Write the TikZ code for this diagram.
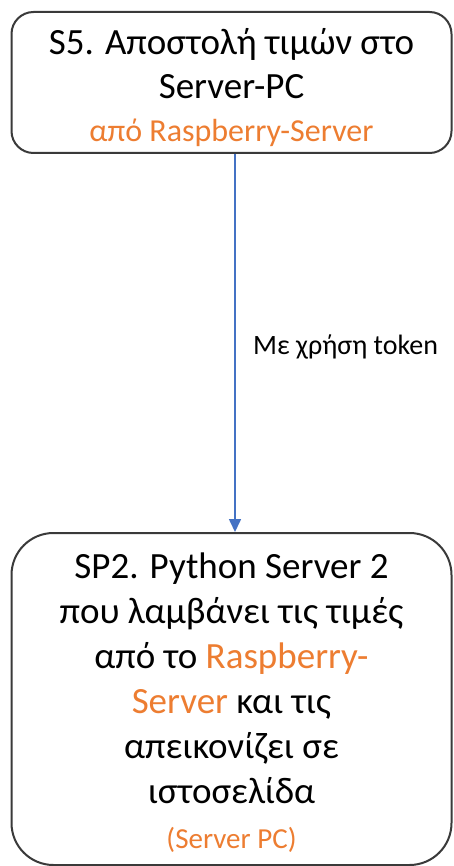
\documentclass[tikz,border=0pt]{standalone}
\usepackage{fontspec}
\setmainfont{Carlito}
\usetikzlibrary{arrows.meta}
\definecolor{boxline}{HTML}{3A3A3A}
\definecolor{accent}{HTML}{ED7D31}
\definecolor{arrowblue}{HTML}{4472C4}
\tikzset{
  roundbox/.style={draw=boxline, line width=2pt, fill=white},
  boxtext/.style={align=center, inner sep=0pt, text=black,
    font=\fontsize{37}{43.5}\selectfont},
  flowarrow/.style={draw=arrowblue, line width=1.6pt, -{Triangle[width=12pt,length=13pt]}},
  lbl/.style={font=\fontsize{28}{32}\selectfont, text=black, inner sep=0pt}
}
\begin{document}
\begin{tikzpicture}[x=1pt,y=-1pt]
\useasboundingbox (0,0) rectangle (453,866);
\fill[white] (0,0) rectangle (453,866);
\node[roundbox, rounded corners=22pt, minimum width=440pt, minimum height=141pt] (s5) at (231.5,82.5) {};
\node[boxtext] (s5t) at (231.5,88) {S5. Αποστολή τιμών στο\\Server-PC\\{\color{accent}\fontsize{32}{41}\selectfont από Raspberry-Server}};
\node[roundbox, rounded corners=42pt, minimum width=440pt, minimum height=332pt] (sp2) at (231.5,699) {};
\node[boxtext, font=\fontsize{37}{45}\selectfont] (sp2t) at (231.5,703) {SP2. Python Server 2\\που λαμβάνει τις τιμές\\από το {\color{accent}Raspberry-}\\{\color{accent}Server} και τις\\απεικονίζει σε\\ιστοσελίδα\\{\color{accent}\fontsize{29}{41}\selectfont (Server PC)}};
\coordinate (ax) at (235,0);
\draw[flowarrow] (s5.south -| ax) -- (sp2.north -| ax);
\node[lbl, anchor=west] (tok) at (253,347) {Με χρήση token};
\end{tikzpicture}
\end{document}
